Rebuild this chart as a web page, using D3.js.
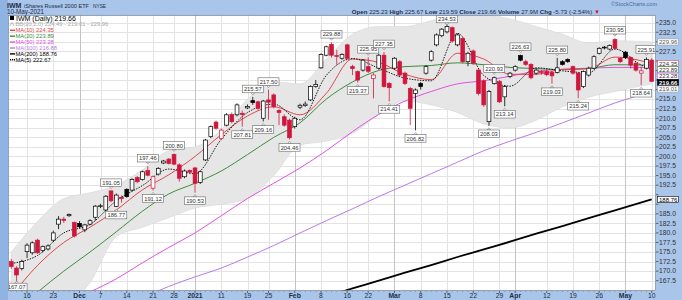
<!DOCTYPE html>
<html>
<head>
<meta charset="utf-8">
<script src="https://cdn.jsdelivr.net/npm/d3@7"></script>
<style>
  body { margin: 0; background: #fff; }
  svg { display: block; font-family: Arial, "Liberation Sans", sans-serif; }
</style>
</head>
<body>
<div id="chart"></div>
<script>
// --- data

const dates = [
  '2020-11-11', '2020-11-12', '2020-11-13', '2020-11-16', '2020-11-17', '2020-11-18', '2020-11-19', '2020-11-20',
  '2020-11-23', '2020-11-24', '2020-11-25', '2020-11-27', '2020-11-30',
  '2020-12-01', '2020-12-02', '2020-12-03', '2020-12-04', '2020-12-07', '2020-12-08', '2020-12-09', '2020-12-10',
  '2020-12-11', '2020-12-14', '2020-12-15', '2020-12-16', '2020-12-17', '2020-12-18', '2020-12-21', '2020-12-22',
  '2020-12-23', '2020-12-24', '2020-12-28', '2020-12-29', '2020-12-30', '2020-12-31',
  '2021-01-04', '2021-01-05', '2021-01-06', '2021-01-07', '2021-01-08', '2021-01-11', '2021-01-12', '2021-01-13',
  '2021-01-14', '2021-01-15', '2021-01-19', '2021-01-20', '2021-01-21', '2021-01-22', '2021-01-25', '2021-01-26',
  '2021-01-27', '2021-01-28', '2021-01-29',
  '2021-02-01', '2021-02-02', '2021-02-03', '2021-02-04', '2021-02-05', '2021-02-08', '2021-02-09', '2021-02-10',
  '2021-02-11', '2021-02-12', '2021-02-16', '2021-02-17', '2021-02-18', '2021-02-19', '2021-02-22', '2021-02-23',
  '2021-02-24', '2021-02-25', '2021-02-26',
  '2021-03-01', '2021-03-02', '2021-03-03', '2021-03-04', '2021-03-05', '2021-03-08', '2021-03-09', '2021-03-10',
  '2021-03-11', '2021-03-12', '2021-03-15', '2021-03-16', '2021-03-17', '2021-03-18', '2021-03-19', '2021-03-22',
  '2021-03-23', '2021-03-24', '2021-03-25', '2021-03-26', '2021-03-29', '2021-03-30', '2021-03-31',
  '2021-04-01', '2021-04-05', '2021-04-06', '2021-04-07', '2021-04-08', '2021-04-09', '2021-04-12', '2021-04-13',
  '2021-04-14', '2021-04-15', '2021-04-16', '2021-04-19', '2021-04-20', '2021-04-21', '2021-04-22', '2021-04-23',
  '2021-04-26', '2021-04-27', '2021-04-28', '2021-04-29', '2021-04-30',
  '2021-05-03', '2021-05-04', '2021-05-05', '2021-05-06', '2021-05-07', '2021-05-10',
];

const open = [
  172.5, 170.8, 170.7, 175.1, 174.8, 178.1, 175.4, 175.8, 178.1, 182.3, 183.6, 184.5, 182.7,
  182.5, 180.8, 182.3, 184.1, 186.9, 186.0, 191.0, 186.9, 189.3, 191.4, 191.2, 194.5, 194.0, 196.3, 191.7, 195.4,
  198.3, 199.3, 200.5, 197.8, 194.7, 196.3,
  197.0, 193.2, 199.1, 205.2, 209.0, 204.7, 208.2, 211.0, 210.9, 211.3, 212.7, 214.6, 214.3, 210.0, 214.8, 216.1,
  212.0, 210.4, 209.5,
  207.8, 212.9, 213.3, 214.8, 218.3, 223.2, 226.5, 229.3, 226.4, 225.7, 229.2, 223.5, 222.2, 222.6, 223.5, 220.4,
  223.1, 226.5, 219.1,
  223.1, 224.8, 221.8, 217.8, 216.5, 219.1, 221.8, 225.2, 229.2, 231.6, 232.6, 233.7, 229.2, 230.9, 224.8, 227.6,
  222.6, 219.8, 209.1, 219.1, 219.6, 215.6, 220.9,
  222.6, 226.4, 224.8, 224.1, 221.8, 222.2, 222.3, 222.0, 222.0, 224.8, 225.4, 223.5, 221.8, 218.3, 221.3, 223.1,
  227.0, 228.4, 228.1, 230.6, 225.7,
  227.3, 225.9, 224.4, 221.8, 223.1, 225.23,
];
const high = [
  173.2, 171.3, 173.0, 177.3, 177.8, 178.5, 176.7, 177.0, 180.6, 184.4, 184.2, 185.1, 183.0,
  183.1, 182.4, 183.6, 187.3, 187.6, 189.9, 191.05, 190.3, 189.8, 191.7, 194.3, 194.9, 196.3, 197.46, 195.0, 197.2,
  199.1, 199.6, 200.80, 198.2, 196.6, 196.6,
  197.3, 196.3, 204.6, 208.1, 209.4, 207.3, 211.3, 211.5, 213.9, 212.0, 213.6, 215.57, 214.6, 214.8, 217.50, 216.5,
  212.4, 211.0, 209.9,
  210.4, 213.8, 214.4, 218.6, 220.0, 227.0, 229.0, 229.88, 227.9, 227.0, 229.5, 224.0, 222.5, 225.5, 225.95, 221.8,
  226.9, 227.35, 219.5,
  226.0, 225.2, 222.2, 218.2, 217.8, 219.5, 223.9, 227.8, 232.2, 233.6, 234.53, 234.0, 232.2, 231.2, 227.4, 228.0,
  223.0, 220.2, 217.4, 220.93, 220.0, 218.7, 222.1,
  223.9, 226.63, 225.3, 224.4, 223.0, 222.6, 222.7, 222.4, 225.80, 225.2, 225.7, 223.8, 222.1, 222.5, 223.5, 226.5,
  228.6, 228.9, 229.3, 230.95, 226.0,
  227.6, 226.2, 224.7, 223.5, 225.91, 225.67,
];
const low = [
  170.6, 167.07, 170.2, 173.4, 174.3, 174.5, 174.9, 175.4, 177.6, 181.0, 182.6, 184.2, 178.8,
  181.2, 180.2, 182.0, 183.2, 186.5, 185.6, 188.0, 186.77, 187.9, 189.2, 190.9, 193.0, 193.7, 194.8, 191.12, 195.0,
  198.0, 197.9, 197.7, 193.4, 194.3, 195.4,
  190.53, 192.8, 198.8, 204.8, 207.0, 204.3, 207.9, 208.7, 210.5, 207.81, 212.4, 213.5, 212.2, 209.16, 209.6, 212.6,
  208.2, 207.8, 204.46,
  207.3, 212.4, 213.0, 214.5, 218.0, 222.9, 226.2, 225.9, 224.0, 225.3, 225.3, 221.3, 219.37, 222.2, 221.8, 215.2,
  222.7, 218.0, 214.41,
  222.7, 221.0, 218.7, 208.2, 206.82, 217.5, 221.4, 224.8, 228.8, 231.2, 232.2, 229.8, 228.8, 224.4, 223.6, 224.0,
  216.0, 213.0, 208.03, 218.8, 214.0, 213.14, 220.5,
  222.2, 224.9, 223.7, 220.2, 221.4, 221.4, 221.0, 219.03, 221.7, 223.8, 224.5, 221.4, 215.24, 217.9, 220.9, 222.8,
  226.7, 228.0, 227.8, 227.9, 224.4,
  225.5, 223.0, 222.2, 218.64, 222.8, 219.59,
];
const close = [
  171.2, 169.0, 172.5, 176.8, 177.4, 174.8, 176.4, 176.6, 180.0, 183.6, 183.3, 184.8, 179.2,
  181.6, 182.1, 183.2, 187.0, 187.1, 189.6, 188.4, 189.9, 189.0, 189.5, 194.0, 193.4, 196.0, 195.1, 194.7, 196.9,
  198.8, 198.2, 198.0, 194.3, 196.2, 195.9,
  193.0, 196.0, 204.3, 207.8, 207.4, 206.9, 210.9, 209.1, 213.5, 211.0, 213.1, 214.1, 212.6, 214.5, 214.2, 213.0,
  211.5, 208.2, 204.9,
  210.0, 213.4, 213.7, 218.3, 218.8, 226.7, 228.7, 226.5, 226.2, 226.7, 225.7, 223.0, 220.0, 225.2, 222.3, 221.3,
  226.5, 218.3, 218.0,
  225.7, 221.3, 219.1, 212.6, 217.4, 218.3, 223.5, 227.4, 231.8, 233.3, 234.0, 230.2, 231.8, 224.8, 227.0, 224.4,
  216.5, 213.5, 217.0, 220.6, 214.3, 218.3, 221.8,
  223.5, 225.2, 224.1, 220.6, 222.6, 222.0, 221.4, 221.1, 223.2, 224.1, 224.8, 221.8, 217.4, 222.2, 223.1, 226.1,
  228.3, 228.6, 229.0, 228.3, 224.8,
  225.9, 223.9, 222.6, 222.4, 225.39, 219.66,
];

// indicator lines, read every 5 sessions (index into dates); null = below the chart
const lineDays = [0, 5, 10, 15, 20, 25, 30, 35, 40, 45, 50, 55, 60, 65, 70, 75, 80, 85, 90, 95, 100, 105, 110, 115, 122];
const ma10 = [163.5, 171.5, 177.5, 181.5, 186, 191.3, 195.2, 200, 205.7, 210.6, 213, 210.9, 216.5, 225.5, 224.6,
  221.5, 220.1, 227, 225.5, 221.5, 221.5, 222.8, 223, 226, 224.35];
const ma20 = [null, 164.5, 170, 175, 180.3, 185.7, 190.2, 193, 196.2, 200.5, 205, 208.8, 215, 219.5, 222.5,
  223.5, 223.8, 224.5, 224, 223.3, 223, 222.7, 223, 224, 223.89];
const ma50 = [null, null, 162, 164.6, 168, 172.2, 176.2, 180, 184.5, 189, 193, 197, 201.5, 206.5, 211,
  214.5, 217, 219, 219.8, 221, 222.3, 222.8, 223.1, 223.3, 223.28];
const ma100 = [null, null, null, null, null, 163, 166, 168.5, 170.8, 173.7, 176.7, 180, 183.2, 186.3, 189.5,
  192.5, 195.5, 198.5, 201.5, 204, 206.3, 208.8, 211.4, 214, 216.88];
const ma200 = [null, null, null, null, null, null, null, null, null, null, null, 161.5, 163.4, 165.5, 167.5,
  169.6, 171.6, 173.7, 175.7, 177.7, 179.8, 181.8, 183.9, 185.9, 188.76];
const bbUpper = [175, 183, 189, 190.5, 192.5, 196.5, 201.5, 202.5, 207, 215, 219.5, 219, 225.5, 232, 234,
  234, 235.5, 237, 237, 236, 234, 232, 229.7, 230.3, 229.96];
const bbLower = [150, 155, 160, 167, 179, 181.5, 184, 186.5, 187.5, 189, 195, 203, 204, 206, 211,
  214.5, 213.5, 211.5, 208.5, 207.5, 209.5, 213, 215.5, 217, 219.01];

const ma5Days = [0, 5, 10, 15, 20, 25, 30, 35, 40, 45, 50, 55, 60, 65, 70, 75, 80, 85, 90, 95, 100, 105, 110, 115, 120, 122];
const ma5 = [172, 174.1, 180, 182.2, 188.4, 192.4, 196.7, 195.5, 204.5, 211.5, 213.7, 209.6, 221.2, 225.6, 223.1,
  220.5, 219.8, 232.2, 221.2, 218.4, 223.2, 222.4, 221.9, 228.1, 223.9, 222.67];

// swing high / low call-outs: [session index, 'H' | 'L']
const callouts = [
  [1, 'L'], [19, 'H'], [20, 'L'], [26, 'H'], [27, 'L'], [31, 'H'], [35, 'L'], [44, 'L'], [46, 'H'], [48, 'L'],
  [49, 'H'], [53, 'L'], [61, 'H'], [66, 'L'], [68, 'H'], [71, 'H'], [72, 'L'], [77, 'L'], [83, 'H'], [91, 'L'],
  [92, 'H'], [94, 'L'], [97, 'H'], [103, 'L'], [104, 'H'], [108, 'L'], [115, 'H'], [120, 'L'], [121, 'H'],
];

const yTicks = [167.5, 170, 172.5, 175, 177.5, 180, 182.5, 185, 187.5, 190, 192.5, 195, 197.5, 200, 202.5, 205,
  207.5, 210, 212.5, 215, 217.5, 220, 222.5, 225, 227.5, 230, 232.5, 235];
const xTicks = [
  ['2020-11-16', '16'], ['2020-11-23', '23'], ['2020-12-01', 'Dec', 1], ['2020-12-07', '7'], ['2020-12-14', '14'],
  ['2020-12-21', '21'], ['2020-12-28', '28'], ['2021-01-04', '2021', 1], ['2021-01-11', '11'], ['2021-01-19', '19'],
  ['2021-01-25', '25'], ['2021-02-01', 'Feb', 1], ['2021-02-08', '8'], ['2021-02-16', '16'], ['2021-02-22', '22'],
  ['2021-03-01', 'Mar', 1], ['2021-03-08', '8'], ['2021-03-15', '15'], ['2021-03-22', '22'], ['2021-03-29', '29'],
  ['2021-04-01', 'Apr', 1], ['2021-04-12', '12'], ['2021-04-19', '19'], ['2021-04-26', '26'], ['2021-05-03', 'May', 1],
  ['2021-05-10', '10'],
];

// last values shown as tags on the price axis
const tagValues = [229.96, 224.35, 223.89, 223.28, 219.66, 219.01, 188.76];

// --- layout

const W = 682, H = 300;
const plot = { left: 8, right: 656, top: 15, bottom: 291 };
const RED = '#d0163c', FRAME = '#a9c6ea';
const colors = { ma10: '#e0474c', ma20: '#3f8c3f', ma50: '#e052e0', ma100: '#b77be6', ma200: '#000', ma5: '#000' };

const svg = d3.select('#chart').append('svg')
  .attr('width', W)
  .attr('height', H);

svg.append('rect').attr('width', W).attr('height', H).attr('fill', FRAME);
svg.append('rect').attr('width', 8).attr('height', H).attr('fill', '#8fb3e2');
svg.append('rect')
  .attr('x', plot.left).attr('y', plot.top)
  .attr('width', plot.right - plot.left).attr('height', plot.bottom - plot.top)
  .attr('fill', '#fff');

svg.append('clipPath').attr('id', 'clip')
  .append('rect')
  .attr('x', plot.left).attr('y', plot.top)
  .attr('width', plot.right - plot.left).attr('height', plot.bottom - plot.top);

const x = d3.scalePoint().domain(dates).range([11.3, 651.7]);
const y = d3.scaleLinear().domain([167.5, 235]).range([280.7, 22.7]);

const g = svg.append('g').attr('clip-path', 'url(#clip)');

// grid
g.selectAll('line.hgrid')
  .data(yTicks)
  .enter()
  .append('line')
  .attr('x1', plot.left).attr('x2', plot.right)
  .attr('y1', d => Math.round(y(d)) + 0.5).attr('y2', d => Math.round(y(d)) + 0.5)
  .attr('stroke', '#e3e3e3');
g.selectAll('line.vgrid')
  .data(xTicks)
  .enter()
  .append('line')
  .attr('x1', d => Math.round(x(d[0])) + 0.5).attr('x2', d => Math.round(x(d[0])) + 0.5)
  .attr('y1', plot.top).attr('y2', plot.bottom)
  .attr('stroke', d => d[2] ? '#c4c4c4' : '#e3e3e3');

// bollinger band
const band = lineDays.map((d, i) => ({ d, hi: bbUpper[i], lo: bbLower[i] }));
g.append('path')
  .datum(band)
  .attr('fill', '#e6e6e6')
  .attr('stroke', '#d6d6d6')
  .attr('stroke-width', 0.6)
  .attr('d', d3.area()
    .x(e => x(dates[e.d]))
    .y0(e => y(e.lo))
    .y1(e => y(e.hi))
    .curve(d3.curveMonotoneX));

// moving averages
function drawLine(days, values, color, width, dash) {
  const pts = days.map((d, i) => ({ d, v: values[i] }));
  g.append('path')
    .datum(pts)
    .attr('fill', 'none')
    .attr('stroke', color)
    .attr('stroke-width', width)
    .attr('stroke-dasharray', dash || null)
    .attr('d', d3.line()
      .defined(e => e.v != null)
      .x(e => x(dates[e.d]))
      .y(e => y(e.v))
      .curve(d3.curveMonotoneX));
}
drawLine(lineDays, ma200, colors.ma200, 1.8);
drawLine(lineDays, ma100, colors.ma100, 1);
drawLine(lineDays, ma50, colors.ma50, 1);
drawLine(lineDays, ma20, colors.ma20, 1);
drawLine(lineDays, ma10, colors.ma10, 1);
drawLine(ma5Days, ma5, colors.ma5, 0.9, '1.5,1.2');

// candles
const candles = dates.map((d, i) => ({
  d, o: open[i], h: high[i], l: low[i], c: close[i],
  prev: i ? close[i - 1] : open[i],
}));
const cg = g.selectAll('g.candle')
  .data(candles)
  .enter()
  .append('g');
cg.append('line')
  .attr('x1', e => x(e.d)).attr('x2', e => x(e.d))
  .attr('y1', e => y(e.h)).attr('y2', e => y(e.l))
  .attr('stroke', e => e.c < e.prev ? RED : '#000')
  .attr('stroke-width', 0.8);
cg.append('rect')
  .attr('x', e => x(e.d) - 1.9)
  .attr('width', 3.8)
  .attr('y', e => y(Math.max(e.o, e.c)))
  .attr('height', e => Math.max(0.8, Math.abs(y(e.o) - y(e.c))))
  .attr('fill', e => e.c > e.o ? '#fff' : (e.c < e.prev ? RED : '#000'))
  .attr('stroke', e => e.c < e.prev ? RED : '#000')
  .attr('stroke-width', 0.7);

// call-outs
const co = g.selectAll('g.callout')
  .data(callouts)
  .enter()
  .append('g');
co.each(function ([i, t]) {
  const v = t === 'H' ? high[i] : low[i];
  const cx = x(dates[i]);
  const py = y(v);
  let cy = t === 'H' ? py - 8 : py + 8;
  cy = Math.max(plot.top + 4, Math.min(plot.bottom - 4, cy));
  const el = d3.select(this);
  const tip = t === 'H' ? cy + 3.8 : cy - 3.8;
  el.append('path')
    .attr('d', `M${cx - 1.8},${tip}L${cx},${t === 'H' ? tip + 2.2 : tip - 2.2}L${cx + 1.8},${tip}Z`)
    .attr('fill', '#fff')
    .attr('stroke', '#666')
    .attr('stroke-width', 0.5);
  el.append('rect')
    .attr('x', cx - 10.5).attr('y', cy - 3.8)
    .attr('width', 21).attr('height', 7.6)
    .attr('fill', '#fff')
    .attr('stroke', '#666')
    .attr('stroke-width', 0.6);
  el.append('text')
    .attr('x', cx).attr('y', cy + 2.1)
    .attr('text-anchor', 'middle')
    .attr('font-size', 5.8)
    .attr('fill', '#333')
    .text(v.toFixed(2));
});

// legend
const legend = [
  { t: 'IWM (Daily) 219.66', c: '#000', size: 7, icon: 'box' },
  { t: 'BB(20,2.0) 224.49 - 219.01 - 229.96', c: '#aaa', size: 5.8, icon: 'bb' },
  { t: 'MA(10) 224.35', c: colors.ma10, size: 5.8 },
  { t: 'MA(20) 223.89', c: colors.ma20, size: 5.8 },
  { t: 'MA(50) 223.28', c: colors.ma50, size: 5.8 },
  { t: 'MA(100) 216.88', c: colors.ma100, size: 5.8 },
  { t: 'MA(200) 188.76', c: '#000', size: 5.8 },
  { t: 'MA(5) 222.67', c: '#000', size: 5.8, dash: true },
];
const lg = svg.append('g');
legend.forEach((e, i) => {
  const ly = 20.5 + i * 5.9;
  if (e.icon === 'box') {
    lg.append('rect').attr('x', 10).attr('y', ly - 5).attr('width', 4).attr('height', 4.5).attr('fill', '#000');
  } else if (e.icon === 'bb') {
    lg.append('path').attr('d', `M10,${ly - 0.5}L12,${ly - 4}L14,${ly - 0.5}`)
      .attr('fill', 'none').attr('stroke', '#aaa').attr('stroke-width', 0.8);
  } else {
    lg.append('line').attr('x1', 10).attr('x2', 15).attr('y1', ly - 2).attr('y2', ly - 2)
      .attr('stroke', e.c).attr('stroke-width', 1.4)
      .attr('stroke-dasharray', e.dash ? '1.2,0.8' : null);
  }
  lg.append('text')
    .attr('x', e.icon === 'box' ? 16 : 15.5).attr('y', ly)
    .attr('font-size', e.size)
    .attr('fill', e.c)
    .text(e.t);
});

// plot border
svg.append('rect')
  .attr('x', plot.left + 0.5).attr('y', plot.top + 0.5)
  .attr('width', plot.right - plot.left - 1).attr('height', plot.bottom - plot.top - 1)
  .attr('fill', 'none')
  .attr('stroke', '#7d8da3')
  .attr('stroke-width', 0.8);

// value tags: stack them so they do not collide
const tagStyle = {
  229.96: { stroke: '#999', fill: '#fff', c: '#555' },
  224.35: { stroke: colors.ma10, fill: '#fff', c: '#333' },
  223.89: { stroke: colors.ma20, fill: '#fff', c: '#333' },
  223.28: { stroke: colors.ma50, fill: '#fff', c: '#333' },
  219.66: { stroke: '#000', fill: '#000', c: '#fff' },
  219.01: { stroke: '#999', fill: '#fff', c: '#555' },
  188.76: { stroke: '#000', fill: '#fff', c: '#000' },
};
let lastY = -100;
const tagPos = tagValues.map(v => {
  const ty = Math.max(y(v), lastY + 6.4);
  lastY = ty;
  return { v, ty };
});

// right axis (labels hidden where a tag sits on them)
const ya = svg.append('g');
yTicks.forEach(v => {
  const ty = y(v);
  ya.append('line').attr('x1', plot.right).attr('x2', plot.right + 2.5)
    .attr('y1', ty).attr('y2', ty).attr('stroke', '#333').attr('stroke-width', 0.7);
  if (tagPos.some(t => Math.abs(t.ty - ty) < 6.6)) return;
  ya.append('text')
    .attr('x', plot.right + 3).attr('y', ty + 2.3)
    .attr('font-size', 6.8)
    .attr('fill', '#333')
    .text(v.toFixed(1));
});
tagPos.forEach(({ v, ty }) => {
  const s = tagStyle[v];
  ya.append('rect')
    .attr('x', plot.right + 1.5).attr('y', ty - 3.1)
    .attr('width', 21).attr('height', 6.2)
    .attr('fill', s.fill).attr('stroke', s.stroke).attr('stroke-width', 0.6);
  ya.append('text')
    .attr('x', plot.right + 3).attr('y', ty + 2.1)
    .attr('font-size', 6)
    .attr('font-weight', s.fill === '#000' ? 'bold' : null)
    .attr('fill', s.c)
    .text(v.toFixed(2));
});

// bottom axis
const xa = svg.append('g');
xTicks.forEach(([d, label, bold]) => {
  const tx = x(d);
  xa.append('line').attr('x1', tx).attr('x2', tx).attr('y1', plot.bottom).attr('y2', plot.bottom + 2)
    .attr('stroke', '#333').attr('stroke-width', 0.6);
  xa.append('text')
    .attr('x', tx).attr('y', 298)
    .attr('text-anchor', 'middle')
    .attr('font-size', 6.8)
    .attr('font-weight', bold ? 'bold' : null)
    .attr('fill', '#1d2c4a')
    .text(label);
});
dates.forEach(d => {
  xa.append('line').attr('x1', x(d)).attr('x2', x(d)).attr('y1', plot.bottom).attr('y2', plot.bottom + 1)
    .attr('stroke', '#555').attr('stroke-width', 0.4);
});

// header
const hd = svg.append('g').attr('fill', '#1d2c4a');
hd.append('text').attr('x', 7).attr('y', 7.5).attr('font-size', 7).attr('font-weight', 'bold').text('IWM');
hd.append('text').attr('x', 24).attr('y', 7.5).attr('font-size', 5.6).text('iShares Russell 2000 ETF');
hd.append('text').attr('x', 93).attr('y', 7.5).attr('font-size', 4.8).text('NYSE');
hd.append('text').attr('x', 7).attr('y', 13.6).attr('font-size', 6.3).text('10-May-2021');
hd.append('text').attr('x', 657).attr('y', 6).attr('text-anchor', 'end').attr('font-size', 5.5)
  .attr('fill', '#4d6a99').text('\u00a9StockCharts.com');

const quote = [
  ['Open', '225.23'], ['High', '225.67'], ['Low', '219.59'], ['Close', '219.66'],
  ['Volume', '27.9M'], ['Chg', '-5.73 (-2.54%)'],
];
const qt = hd.append('text').attr('x', 600).attr('y', 13.6).attr('text-anchor', 'end').attr('font-size', 6.1);
quote.forEach(([k, v], i) => {
  qt.append('tspan').attr('font-weight', 'bold').text((i ? ' ' : '') + k + ' ');
  qt.append('tspan').text(v);
});
qt.append('tspan').attr('fill', RED).text(' \u25BC');
</script>
</body>
</html>
